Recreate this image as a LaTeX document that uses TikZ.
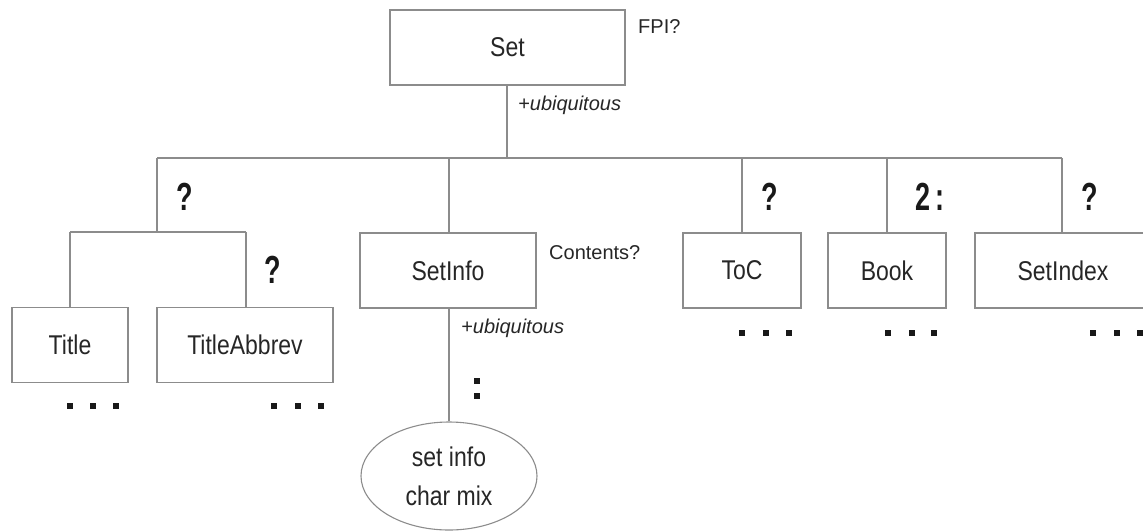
\documentclass[tikz,border=0pt]{standalone}
\usepackage{fontspec}
\setmainfont{Liberation Sans}
\usetikzlibrary{shapes.geometric}
\newcommand\vstretch[1]{\scalebox{1}[1.18]{#1}}
\newcommand\qstretch[1]{\scalebox{1}[1.45]{#1}}
\begin{document}
\begin{tikzpicture}[x=1pt,y=-1pt,
  line/.style={draw=black!45,line width=1.1pt},
  elbox/.style={line,rectangle,inner sep=0pt,minimum height=75pt,text=black!85,font=\fontsize{23}{27}\selectfont},
  oval/.style={line,ellipse,inner sep=0pt,minimum width=176pt,minimum height=108pt,text=black!85,font=\fontsize{23}{39}\selectfont,align=center},
  note/.style={inner sep=0pt,text=black!85,font=\fontsize{20}{24}\selectfont},
  inote/.style={note,font=\fontsize{20}{24}\selectfont\itshape},
  occ/.style={inner sep=0pt,text=black!90,font=\fontsize{27}{31}\selectfont\bfseries},
  dot/.style={fill=black!90,minimum size=5.5pt,inner sep=0pt,rectangle}]
\useasboundingbox (0,0) rectangle (1143,531);
\clip (0,0) rectangle (1143,531);
% boxes
\node[elbox,minimum width=235pt] (set) at (507.5,47.5) {\vstretch{Set}};
\node[elbox,minimum width=116pt] (title) at (70,345) {\vstretch{Title}};
\node[elbox,minimum width=176pt] (tabbrev) at (245,345) {\vstretch{TitleAbbrev}};
\node[elbox,minimum width=176pt] (setinfo) at (448,270.5) {\vstretch{SetInfo}};
\node[elbox,minimum width=118pt] (toc) at (742,270.5) {\vstretch{ToC}};
\node[elbox,minimum width=118pt] (book) at (887,270.5) {\vstretch{Book}};
\node[elbox,minimum width=176pt] (setindex) at (1063,270.5) {\vstretch{SetIndex}};
\node[oval] (mix) at (449,476) {\vstretch{set info}\\\vstretch{char mix}};
% junctions
\coordinate (j1) at (507,158);
\coordinate (jl) at (157,158);
\coordinate (jr) at (1062,158);
\coordinate (jsi) at (449,158);
\coordinate (jtoc) at (742,158);
\coordinate (jbook) at (887,158);
\coordinate (t1) at (157,232);
\coordinate (t2) at (70,232);
\coordinate (t3) at (246,232);
% connectors
\draw[line] (set.south -| j1) -- (j1);
\draw[line] (jl) -- (jr);
\draw[line] (jl) -- (t1);
\draw[line] (t2) -- (t3);
\draw[line] (t2) -- (t2 |- title.north);
\draw[line] (t3) -- (t3 |- tabbrev.north);
\draw[line] (jsi) -- (jsi |- setinfo.north);
\draw[line] (jtoc) -- (toc.north);
\draw[line] (jbook) -- (jbook |- book.north);
\draw[line] (jr) -- (jr |- setindex.north);
\draw[line] (setinfo.south -| mix.north) -- (mix.north);
% notes
\node[note,anchor=west] (fpi) at (638,27) {FPI?};
\node[inote,anchor=west] (ubq1) at (518,105) {+ubiquitous};
\node[note,anchor=west] (cont) at (549,253) {Contents?};
\node[inote,anchor=west] (ubq2) at (461,328) {+ubiquitous};
% occurrence indicators
\node[occ] (q1) at (185,197) {\qstretch{?}};
\node[occ] (q2) at (273,270) {\qstretch{?}};
\node[occ] (q3) at (770,197) {\qstretch{?}};
\node[occ] (n2) at (930,197) {\qstretch{2\,:}};
\node[occ] (q4) at (1090,197) {\qstretch{?}};
\node[dot] (c1) at (477,381) {};
\node[dot] (c2) at (477,396) {};
% ellipsis dots
\foreach \x/\y [count=\i] in {70/406,93/406,116/406,274/406,298/406,321/406,742/333,766/333,789/333,888/333,912/333,934/333,1093/333,1117/333,1140/333}
  \node[dot] (e\i) at (\x,\y) {};
\end{tikzpicture}
\end{document}
